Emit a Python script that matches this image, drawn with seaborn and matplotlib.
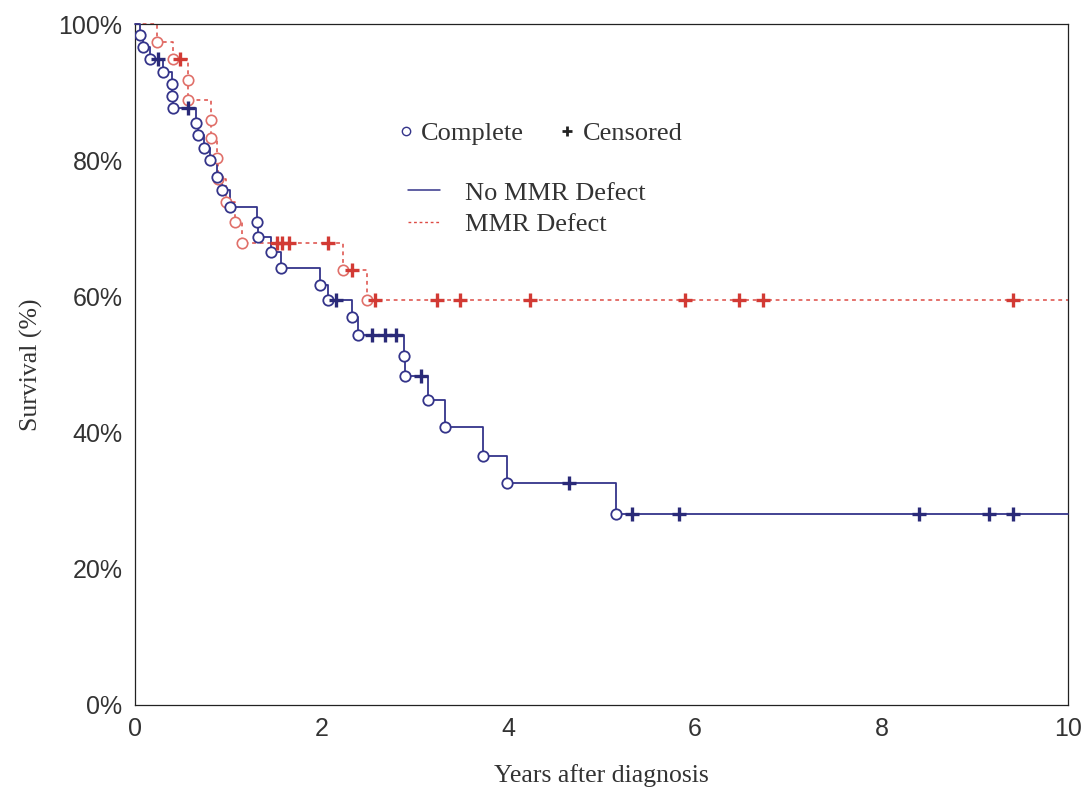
import numpy as np
import pandas as pd
import matplotlib
matplotlib.use("Agg")
import matplotlib.pyplot as plt
import seaborn as sns
from matplotlib.lines import Line2D

# ---------------- data ----------------
# No MMR Defect: event ("Complete") times in years and survival (%) after each event
nommr_event_t = [0.05, 0.09, 0.16, 0.30, 0.40, 0.40, 0.41, 0.65, 0.68, 0.74, 0.80,
                 0.88, 0.93, 1.02, 1.31, 1.32, 1.46, 1.56, 1.98, 2.07, 2.33, 2.39,
                 2.88, 2.89, 3.14, 3.32, 3.73, 3.99, 5.16]
nommr_event_s = [98.4, 96.6, 94.9, 93.0, 91.2, 89.4, 87.7, 85.5, 83.7, 81.8, 80.0,
                 77.5, 75.6, 73.1, 70.9, 68.7, 66.5, 64.2, 61.7, 59.5, 57.0, 54.3,
                 51.2, 48.3, 44.8, 40.8, 36.6, 32.6, 28.0]
nommr_censor_t = [0.25, 0.57, 2.15, 2.54, 2.68, 2.80, 3.07, 4.65, 5.33, 5.83,
                  8.40, 9.15, 9.41]

# MMR Defect
mmr_event_t = [0.24, 0.41, 0.57, 0.57, 0.81, 0.81, 0.88, 0.89, 0.98, 1.07, 1.15,
               2.23, 2.49]
mmr_event_s = [97.4, 94.9, 91.8, 88.8, 85.9, 83.3, 80.3, 77.2, 73.9, 70.9, 67.8,
               63.9, 59.5]
mmr_censor_t = [0.48, 1.52, 1.58, 1.65, 2.07, 2.33, 2.57, 3.24, 3.48, 4.23,
                5.90, 6.47, 6.73, 9.41]

follow_up_end = 10
x_ticks = [0, 2, 4, 6, 8, 10]
y_ticks = [0, 20, 40, 60, 80, 100]
y_tick_labels = ["0%", "20%", "40%", "60%", "80%", "100%"]
x_label = "Years after diagnosis"
y_label = "Survival (%)"
marker_labels = ["Complete", "Censored"]
group_labels = ["No MMR Defect", "MMR Defect"]

# ---------------- styling ----------------
blue = "#34348a"
blue_cross = "#2a2a78"
red = "#dd4a44"
red_circle = "#e0706a"
red_cross = "#d23a34"
text_c = "#333333"

sns.set_theme(style="white")
plt.rcParams["font.family"] = ["Liberation Sans", "DejaVu Sans"]
serif = ["Liberation Serif", "DejaVu Serif"]


def step_frame(t, s):
    tt = [0.0] + list(t) + [follow_up_end]
    ss = [100.0] + list(s) + [s[-1]]
    return pd.DataFrame({"t": tt, "s": ss})


def censor_frame(ct, t, s):
    idx = np.searchsorted(np.asarray(t), np.asarray(ct), side="right") - 1
    s = np.asarray(s)
    lv = np.where(idx >= 0, s[np.clip(idx, 0, None)], 100.0)
    return pd.DataFrame({"t": ct, "s": lv})


fig = plt.figure(figsize=(10.86, 7.87), dpi=100)
ax = fig.add_axes([135 / 1086, 1 - 705 / 787, 933 / 1086, 681 / 787])

# step curves
sns.lineplot(data=step_frame(mmr_event_t, mmr_event_s), x="t", y="s", ax=ax,
             estimator=None, sort=False, drawstyle="steps-post", color=red,
             lw=1.1, linestyle=(0, (2.5, 2.5)), clip_on=False, zorder=2)
sns.lineplot(data=step_frame(nommr_event_t, nommr_event_s), x="t", y="s", ax=ax,
             estimator=None, sort=False, drawstyle="steps-post", color=blue,
             lw=1.3, clip_on=False, zorder=3)

# event markers (hollow circles)
sns.lineplot(data=pd.DataFrame({"t": mmr_event_t, "s": mmr_event_s}), x="t", y="s",
             ax=ax, estimator=None, sort=False, linestyle="", marker="o",
             markersize=7.5, markerfacecolor="white", markeredgecolor=red_circle,
             markeredgewidth=1.2, zorder=4)
sns.lineplot(data=pd.DataFrame({"t": nommr_event_t, "s": nommr_event_s}), x="t", y="s",
             ax=ax, estimator=None, sort=False, linestyle="", marker="o",
             markersize=7.5, markerfacecolor="white", markeredgecolor=blue,
             markeredgewidth=1.3, zorder=5)

# censor markers (+)
sns.lineplot(data=censor_frame(mmr_censor_t, mmr_event_t, mmr_event_s), x="t", y="s",
             ax=ax, estimator=None, sort=False, linestyle="", marker="+",
             markersize=10, markeredgecolor=red_cross, markeredgewidth=2.4, zorder=6)
sns.lineplot(data=censor_frame(nommr_censor_t, nommr_event_t, nommr_event_s), x="t",
             y="s", ax=ax, estimator=None, sort=False, linestyle="", marker="+",
             markersize=10, markeredgecolor=blue_cross, markeredgewidth=2.4, zorder=6)

# axes
ax.set_xlim(0, 10)
ax.set_ylim(0, 100)
ax.set_xticks(x_ticks)
ax.set_xticklabels([str(v) for v in x_ticks])
ax.set_yticks(y_ticks)
ax.set_yticklabels(y_tick_labels)
ax.tick_params(axis="both", direction="in", length=4, width=0.8, colors="#222222",
               labelcolor=text_c, labelsize=18)
ax.tick_params(axis="x", pad=9)
ax.tick_params(axis="y", pad=9)
for sp in ax.spines.values():
    sp.set_visible(True)
    sp.set_color("#222222")
    sp.set_linewidth(0.9)

ax.set_xlabel(x_label, family=serif, fontsize=18.5, color=text_c, labelpad=16)
ax.set_ylabel(y_label, family=serif, fontsize=18.5, color=text_c, labelpad=11)

# legends
h1 = [Line2D([], [], marker="o", ls="none", mfc="white", mec=blue, ms=6, mew=1.0),
      Line2D([], [], marker="+", ls="none", color="#222222", ms=7, mew=2.0)]
leg1 = ax.legend(h1, marker_labels, loc="upper left", bbox_to_anchor=(0.256, 0.891),
                 ncol=2, frameon=False, prop=dict(family=serif, size=19),
                 handlelength=0.6, handletextpad=0.3, columnspacing=1.3,
                 labelcolor=text_c)
ax.add_artist(leg1)
h2 = [Line2D([], [], color=blue, lw=1.1),
      Line2D([], [], color=red, lw=1.0, ls=(0, (2, 2)))]
ax.legend(h2, group_labels, loc="upper left", bbox_to_anchor=(0.267, 0.804),
          frameon=False, prop=dict(family=serif, size=19), handlelength=1.2,
          handletextpad=0.95, labelspacing=0.3, labelcolor=text_c)

fig.savefig("out.png", dpi=100)
